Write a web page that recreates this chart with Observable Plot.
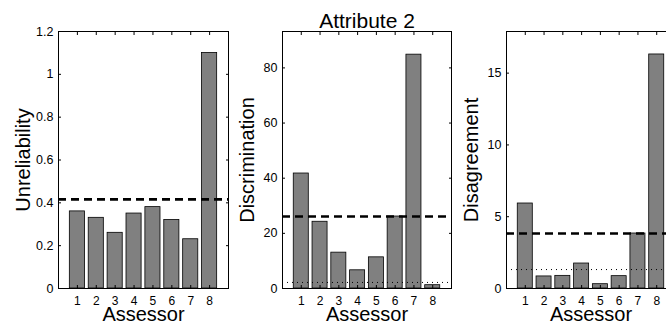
<!DOCTYPE html>
<html><head><meta charset="utf-8">
<script src="https://cdn.jsdelivr.net/npm/d3@7"></script>
<script src="https://cdn.jsdelivr.net/npm/@observablehq/plot@0.6"></script>
<style>
html,body{margin:0;padding:0;background:#fff;overflow:hidden;}
#wrap{position:relative;width:666px;height:327px;overflow:hidden;background:#fff;}
.panel{position:absolute;top:0;}
</style></head><body><div id="wrap"></div>
<script>
const title = "Attribute 2";
const xLabel = "Assessor";
const assessors = [1, 2, 3, 4, 5, 6, 7, 8];
const unreliability = [0.36, 0.33, 0.26, 0.35, 0.38, 0.32, 0.23, 1.10];
const discrimination = [41.7, 24.2, 13.0, 6.6, 11.3, 26.1, 84.8, 1.2];
const disagreement = [5.92, 0.84, 0.88, 1.74, 0.30, 0.86, 3.83, 16.3];
const dashedLevels = [0.416, 26.1, 3.83];
const dottedLevels = [null, 2.2, 1.32];
const yLabels = ["Unreliability", "Discrimination", "Disagreement"];
const yTicks1 = [0, 0.2, 0.4, 0.6, 0.8, 1, 1.2];
const yTicks2 = [0, 20, 40, 60, 80];
const yTicks3 = [0, 5, 10, 15];
const yMax = [1.2, 93.2, 17.9];

const barWidth = 0.8;
const fmt = d => String(+d.toFixed(2));
const font = "'Liberation Sans', Arial, Helvetica, sans-serif";

const panels = [
  {values: unreliability, ticks: yTicks1, left: 0, width: 230},
  {values: discrimination, ticks: yTicks2, left: 224, width: 229},
  {values: disagreement, ticks: yTicks3, left: 448, width: 229}
];

const wrap = document.getElementById("wrap");
panels.forEach((p, k) => {
  const data = assessors.map((a, i) => ({a, v: p.values[i]}));
  const marks = [
    Plot.rectY(data, {x1: d => d.a - barWidth / 2, x2: d => d.a + barWidth / 2, y: "v",
      fill: "#808080", stroke: "#000", strokeWidth: 0.8}),
  ];
  if (dottedLevels[k] != null) marks.push(Plot.ruleY([dottedLevels[k]], {stroke: "#000", strokeWidth: 1, strokeDasharray: "1,4"}));
  marks.push(Plot.ruleY([dashedLevels[k]], {stroke: "#000", strokeWidth: 2.6, strokeDasharray: "8,5"}));
  marks.push(Plot.frame({stroke: "#000", strokeWidth: 1}));
  marks.push(Plot.axisY(p.ticks, {anchor: "left", tickSize: -3, tickPadding: 8, tickFormat: fmt, fontSize: 12.5, label: null}));
  marks.push(Plot.axisY(p.ticks, {anchor: "right", tickSize: -3, tickFormat: () => "", label: null}));
  marks.push(Plot.axisX(assessors, {anchor: "bottom", tickSize: -3, tickPadding: 11, fontSize: 12, label: null}));
  marks.push(Plot.axisX(assessors, {anchor: "top", tickSize: -3, tickFormat: () => "", label: null}));
  marks.push(Plot.text([xLabel], {frameAnchor: "bottom", dy: 32, lineAnchor: "bottom", fontSize: 20, text: d => d}));
  marks.push(Plot.text([yLabels[k]], {frameAnchor: "left", dx: -35, rotate: -90, textAnchor: "middle", lineAnchor: "middle", fontSize: 20, text: d => d}));
  if (k === 1) marks.push(Plot.text([title], {frameAnchor: "top", dy: -4, lineAnchor: "bottom", fontSize: 21, text: d => d}));

  const chart = Plot.plot({
    width: p.width,
    height: 327,
    marginLeft: 58,
    marginRight: 2,
    marginTop: 31,
    marginBottom: 39,
    x: {type: "linear", domain: [0, 9]},
    y: {domain: [0, yMax[k]]},
    style: {background: "none", overflow: "visible", fontFamily: font, color: "#000", maxWidth: "none"},
    marks
  });
  const div = document.createElement("div");
  div.className = "panel";
  div.style.left = p.left + "px";
  div.appendChild(chart);
  wrap.appendChild(div);
});
</script></body></html>
